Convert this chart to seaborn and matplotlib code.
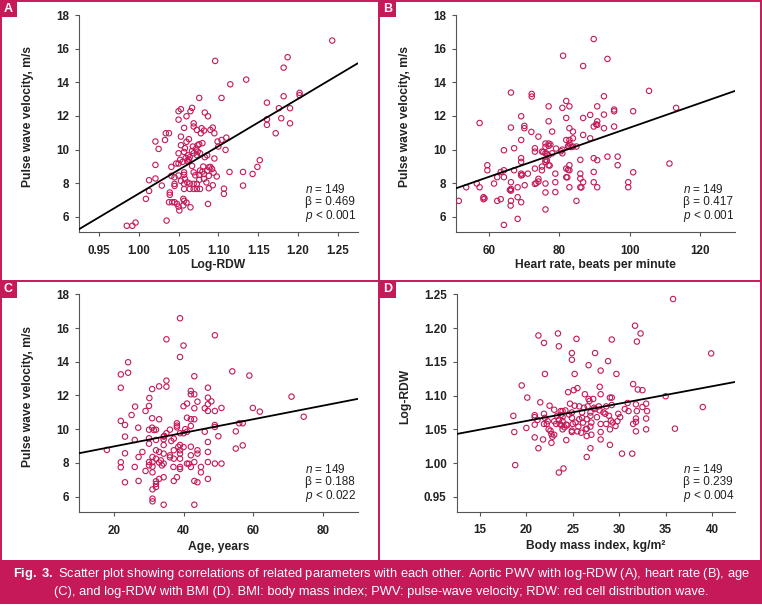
import numpy as np
import pandas as pd
import seaborn as sns
import matplotlib.pyplot as plt
from matplotlib.patches import Rectangle
from matplotlib.lines import Line2D

# ---- data ----
# (A) aortic PWV (m/s) vs log-RDW
pwv_vs_rdw = [
    (1.243, 16.48), (1.096, 15.27), (1.187, 15.49), (1.182, 14.87), (1.135, 14.16), (1.115, 13.88),
    (1.076, 13.07), (1.104, 13.07), (1.182, 13.17), (1.202, 13.37), (1.202, 13.23), (1.161, 12.79),
    (1.176, 12.46), (1.190, 12.46), (1.067, 12.48), (1.053, 12.40), (1.050, 12.28), (1.065, 12.28),
    (1.083, 12.20), (1.087, 11.98), (1.060, 11.98), (1.050, 11.78), (1.161, 11.80), (1.179, 11.86),
    (1.161, 11.47), (1.190, 11.56), (1.069, 11.56), (1.069, 11.37), (1.057, 11.29), (1.073, 11.17),
    (1.079, 11.27), (1.082, 11.13), (1.078, 10.97), (1.090, 11.17), (1.093, 11.31), (1.095, 10.97),
    (1.172, 10.97), (1.034, 10.97), (1.038, 10.97), (1.033, 10.57), (1.053, 10.77), (1.021, 10.48),
    (1.060, 10.46), (1.099, 10.48), (1.104, 10.57), (1.110, 10.71), (1.100, 10.18), (1.109, 9.98),
    (1.025, 10.04), (1.053, 10.26), (1.058, 10.08), (1.068, 10.18), (1.074, 10.26), (1.076, 10.32),
    (1.080, 10.38), (1.050, 9.78), (1.057, 9.86), (1.067, 9.92), (1.069, 9.78), (1.074, 9.88),
    (1.077, 9.78), (1.062, 9.66), (1.073, 9.68), (1.064, 9.54), (1.086, 9.66), (1.095, 9.47),
    (1.052, 9.39), (1.055, 9.27), (1.050, 9.17), (1.062, 9.27), (1.063, 9.41), (1.152, 9.37),
    (1.021, 9.09), (1.041, 8.97), (1.081, 8.99), (1.088, 8.95), (1.090, 8.97), (1.149, 8.97),
    (1.092, 8.85), (1.077, 8.75), (1.080, 8.69), (1.086, 8.75), (1.057, 8.65), (1.069, 8.65),
    (1.114, 8.67), (1.131, 8.67), (1.143, 8.55), (1.076, 8.50), (1.082, 8.55), (1.088, 8.44),
    (1.050, 8.46), (1.041, 8.44), (1.098, 8.40), (1.021, 8.28), (1.013, 8.18), (1.058, 8.26),
    (1.076, 8.20), (1.082, 8.26), (1.053, 8.14), (1.029, 7.86), (1.045, 7.96), (1.057, 7.96),
    (1.064, 7.98), (1.069, 7.96), (1.073, 7.96), (1.093, 7.88), (1.131, 7.86), (1.045, 7.84),
    (1.013, 7.54), (1.064, 7.66), (1.069, 7.66), (1.073, 7.66), (1.077, 7.66), (1.057, 7.66),
    (1.107, 7.68), (1.107, 7.37), (1.039, 7.45), (1.039, 7.31), (1.009, 7.07), (1.056, 7.07),
    (1.057, 6.95), (1.038, 6.87), (1.042, 6.87), (1.045, 6.87), (1.048, 6.77), (1.060, 6.85),
    (1.087, 6.77), (1.050, 6.61), (1.065, 6.57), (1.051, 6.38), (1.035, 5.78), (0.996, 5.66),
    (0.985, 5.47), (0.992, 5.47), (1.059, 9.50), (1.061, 9.35), (1.057, 8.50), (1.094, 8.63),
    (1.047, 9.17), (1.067, 9.03), (1.071, 8.47), (1.061, 8.05), (1.085, 8.05), (1.045, 8.35),
    (1.063, 10.62), (1.072, 10.05), (1.083, 9.55), (1.056, 6.68), (1.088, 7.70),
]

# (B) aortic PWV (m/s) vs heart rate (beats/min)
pwv_vs_hr = [
    (89.8, 16.57), (81.1, 15.58), (93.7, 15.39), (86.8, 14.97), (105.5, 13.49), (66.3, 13.39),
    (72.2, 13.31), (72.2, 13.15), (92.7, 13.17), (113.2, 12.48), (82.0, 12.89), (77.0, 12.57),
    (80.9, 12.48), (82.9, 12.57), (90.8, 12.57), (95.6, 12.38), (95.6, 12.28), (101.0, 12.28),
    (57.4, 11.58), (69.2, 11.98), (88.8, 12.06), (92.7, 12.08), (82.0, 11.88), (86.8, 11.88),
    (77.0, 11.68), (90.8, 11.68), (90.8, 11.47), (89.8, 11.37), (66.3, 11.31), (70.1, 11.41),
    (70.1, 11.27), (82.9, 11.27), (92.7, 11.27), (95.6, 11.37), (72.1, 11.05), (78.0, 11.07),
    (83.9, 11.07), (74.1, 10.77), (86.8, 10.87), (69.2, 10.57), (82.0, 10.57), (82.9, 10.57),
    (83.9, 10.67), (88.8, 10.67), (67.2, 10.08), (64.3, 9.96), (73.1, 10.08), (73.1, 9.88),
    (76.1, 10.36), (76.1, 10.16), (77.0, 10.36), (77.0, 10.22), (79.1, 10.06), (80.9, 10.00),
    (80.9, 9.78), (82.9, 10.36), (82.9, 10.18), (83.9, 10.18), (84.9, 10.18), (75.1, 9.88),
    (76.1, 9.78), (76.1, 9.39), (76.1, 9.27), (77.0, 9.66), (78.0, 9.78), (69.2, 9.49),
    (69.2, 9.27), (89.8, 9.49), (93.7, 9.58), (96.6, 9.58), (90.8, 9.37), (86.0, 9.39),
    (59.6, 9.07), (59.6, 8.77), (77.0, 9.07), (82.9, 9.07), (96.6, 9.07), (111.3, 9.17),
    (75.1, 8.99), (67.2, 8.77), (64.3, 8.77), (73.1, 8.87), (82.0, 8.87), (82.9, 8.77),
    (75.1, 8.77), (63.4, 8.67), (71.1, 8.57), (69.2, 8.57), (69.2, 8.46), (78.9, 8.57),
    (86.0, 8.57), (89.8, 8.67), (101.0, 8.65), (62.4, 8.36), (64.3, 8.36), (82.0, 8.36),
    (86.0, 8.28), (74.1, 8.26), (61.5, 7.98), (56.6, 7.98), (66.3, 8.06), (70.2, 7.88),
    (73.1, 7.96), (74.1, 8.10), (76.1, 7.98), (78.9, 8.06), (86.8, 8.06), (89.8, 8.06),
    (99.6, 8.06), (53.6, 7.76), (57.4, 7.76), (66.3, 7.66), (66.3, 7.56), (68.2, 7.76),
    (82.9, 7.76), (86.0, 7.76), (90.8, 7.76), (99.6, 7.76), (76.1, 7.45), (78.9, 7.47),
    (58.5, 7.17), (58.5, 7.05), (68.2, 7.17), (51.5, 6.95), (62.4, 6.95), (63.4, 7.05),
    (66.3, 6.95), (69.2, 6.87), (66.2, 6.67), (84.9, 6.95), (76.1, 6.44), (68.2, 5.88),
    (64.3, 5.52), (76.5, 9.35), (77.5, 10.30), (82.5, 10.20), (75.5, 9.85), (80.5, 9.90),
    (82.5, 8.80), (69.5, 8.50), (73.5, 8.00), (66.0, 7.60), (76.5, 9.75), (83.5, 10.15),
    (77.3, 9.05), (82.3, 8.35), (86.3, 7.75), (58.8, 7.10), (90.5, 11.50),
]

# (C) aortic PWV (m/s) vs age (years)
pwv_vs_age = [
    (39.0, 16.58), (49.0, 15.57), (35.1, 15.33), (40.0, 14.96), (39.0, 14.28), (24.1, 13.97),
    (24.1, 13.35), (22.0, 13.25), (54.0, 13.43), (58.9, 13.18), (43.1, 13.14), (35.1, 12.88),
    (33.0, 12.54), (35.1, 12.52), (22.0, 12.46), (31.0, 12.38), (47.0, 12.46), (42.1, 12.27),
    (43.1, 12.07), (42.1, 12.07), (30.2, 11.85), (47.0, 11.87), (44.0, 11.63), (48.0, 11.65),
    (71.0, 11.93), (26.1, 11.34), (30.1, 11.38), (47.0, 11.48), (46.1, 11.24), (43.1, 11.24),
    (50.9, 11.26), (59.9, 11.26), (61.9, 11.04), (40.0, 11.36), (29.1, 11.08), (41.0, 11.52),
    (47.0, 11.08), (49.0, 11.08), (74.5, 10.74), (25.1, 10.84), (31.0, 10.65), (33.0, 10.59),
    (41.0, 10.68), (42.1, 10.59), (43.1, 10.59), (22.0, 10.49), (23.2, 10.25), (38.1, 10.35),
    (38.1, 10.21), (38.1, 10.11), (27.0, 10.09), (31.0, 10.09), (32.1, 9.97), (30.1, 9.97),
    (42.1, 10.19), (49.0, 10.25), (49.0, 10.13), (56.0, 10.35), (57.0, 10.35), (36.1, 9.97),
    (39.0, 9.76), (40.0, 9.76), (41.0, 9.85), (46.1, 9.85), (55.0, 9.87), (35.1, 9.76),
    (34.5, 9.60), (23.2, 9.56), (30.1, 9.46), (34.3, 9.56), (34.3, 9.40), (37.2, 9.44),
    (50.0, 9.58), (26.0, 9.36), (32.1, 9.36), (47.0, 9.24), (34.3, 9.06), (39.0, 9.06),
    (40.0, 8.94), (42.1, 8.96), (57.0, 9.04), (30.1, 9.14), (55.0, 8.85), (18.0, 8.77),
    (28.2, 8.65), (32.1, 8.75), (33.0, 8.65), (34.3, 8.55), (37.2, 8.75), (39.0, 8.75),
    (39.0, 8.55), (44.0, 8.75), (47.0, 8.65), (23.2, 8.57), (36.1, 8.45), (36.1, 8.33),
    (31.1, 8.35), (27.1, 8.35), (42.1, 8.45), (44.0, 8.55), (37.2, 8.25), (39.0, 8.25),
    (32.1, 8.25), (31.1, 8.05), (30.1, 8.05), (22.0, 8.04), (34.3, 7.96), (33.0, 8.02),
    (43.1, 8.05), (41.0, 7.96), (47.0, 8.05), (49.0, 7.96), (50.9, 7.96), (30.1, 7.86),
    (31.1, 7.78), (22.0, 7.74), (26.0, 7.76), (37.1, 7.76), (39.0, 7.76), (39.0, 7.64),
    (42.1, 7.76), (45.0, 7.76), (45.0, 7.44), (31.1, 7.44), (29.1, 7.52), (34.3, 7.15),
    (37.2, 6.93), (38.1, 7.15), (47.0, 7.05), (33.0, 7.05), (32.1, 6.91), (32.1, 6.75),
    (27.1, 6.93), (23.2, 6.85), (43.1, 6.93), (44.0, 6.85), (31.1, 6.43), (32.1, 6.57),
    (31.1, 5.88), (31.1, 5.72), (34.3, 5.52), (43.1, 5.52), (33.5, 8.15), (40.5, 10.00),
    (36.5, 9.30), (31.5, 9.95), (38.5, 8.95), (33.8, 7.85), (41.5, 7.95),
]

# (D) log-RDW vs body mass index (kg/m2)
rdw_vs_bmi = [
    (35.8, 1.243), (31.7, 1.2035), (21.3, 1.189), (23.4, 1.192), (32.3, 1.192), (25.4, 1.184),
    (29.2, 1.183), (31.9, 1.180), (21.9, 1.178), (23.5, 1.173), (24.9, 1.163), (27.4, 1.163),
    (39.9, 1.1625), (24.9, 1.153), (28.8, 1.151), (26.7, 1.145), (28.0, 1.137), (22.0, 1.132),
    (25.2, 1.132), (29.7, 1.132), (19.5, 1.115), (31.5, 1.117), (27.9, 1.113), (25.5, 1.111),
    (25.1, 1.108), (24.5, 1.105), (32.0, 1.109), (32.5, 1.108), (20.1, 1.097), (21.5, 1.090),
    (26.3, 1.102), (28.0, 1.102), (26.7, 1.095), (27.2, 1.095), (29.0, 1.097), (29.2, 1.097),
    (35.0, 1.099), (22.5, 1.085), (23.0, 1.079), (25.2, 1.085), (25.7, 1.084), (29.2, 1.086),
    (26.8, 1.092), (26.6, 1.084), (27.3, 1.082), (27.4, 1.080), (27.8, 1.084), (28.6, 1.084),
    (30.9, 1.089), (31.8, 1.087), (32.5, 1.083), (32.9, 1.088), (39.0, 1.083), (18.6, 1.070),
    (20.9, 1.071), (20.9, 1.068), (21.9, 1.073), (23.7, 1.077), (23.9, 1.077), (24.2, 1.078),
    (24.9, 1.075), (26.0, 1.075), (26.9, 1.075), (28.3, 1.075), (29.9, 1.073), (31.0, 1.077),
    (31.9, 1.077), (33.0, 1.077), (26.9, 1.070), (28.5, 1.073), (30.1, 1.068), (23.9, 1.068),
    (23.7, 1.071), (24.9, 1.067), (23.5, 1.064), (25.7, 1.065), (26.0, 1.067), (26.5, 1.065),
    (22.0, 1.067), (31.8, 1.066), (32.9, 1.066), (23.0, 1.062), (23.2, 1.058), (23.9, 1.062),
    (26.1, 1.060), (29.1, 1.063), (29.3, 1.060), (29.8, 1.062), (31.5, 1.058), (31.8, 1.061),
    (20.9, 1.057), (21.9, 1.058), (22.2, 1.058), (23.6, 1.058), (23.8, 1.056), (24.3, 1.057),
    (25.0, 1.058), (28.0, 1.058), (28.6, 1.058), (24.1, 1.053), (24.4, 1.056), (25.6, 1.054),
    (26.5, 1.051), (26.9, 1.054), (28.0, 1.046), (29.0, 1.050), (22.4, 1.050), (22.6, 1.048),
    (20.0, 1.052), (18.7, 1.046), (24.9, 1.048), (24.9, 1.046), (25.5, 1.047), (26.4, 1.050),
    (31.8, 1.047), (32.9, 1.050), (36.0, 1.051), (22.7, 1.043), (23.0, 1.042), (22.8, 1.039),
    (20.9, 1.038), (26.5, 1.040), (27.0, 1.042), (21.8, 1.035), (24.3, 1.034), (28.0, 1.035),
    (22.7, 1.030), (29.0, 1.027), (21.3, 1.022), (26.9, 1.022), (30.3, 1.014), (31.4, 1.014),
    (26.5, 1.009), (18.8, 0.997), (24.0, 0.992), (23.5, 0.986), (24.6, 1.072), (25.3, 1.060),
    (27.6, 1.068), (23.3, 1.070), (26.2, 1.082), (28.9, 1.070), (22.3, 1.062), (25.9, 1.045),
    (27.9, 1.078), (30.6, 1.080), (24.7, 1.088), (29.6, 1.055), (21.2, 1.064), (27.0, 1.060),
    (23.9, 1.050),
]

# regression lines (intercept, slope) as drawn in the figure
fit_lines = [(-20.79, 28.17), (3.99, 0.0731), (8.17, 0.0403), (1.011, 0.00257)]

panel_letters = ["A", "B", "C", "D"]
x_labels = ["Log-RDW", "Heart rate, beats per minute", "Age, years", "Body mass index, kg/m\u00b2"]
y_labels = ["Pulse wave velocity, m/s", "Pulse wave velocity, m/s",
            "Pulse wave velocity, m/s", "Log-RDW"]
n_values = [149, 149, 149, 149]
beta_values = ["0.469", "0.417", "0.188", "0.239"]
p_values = ["0.001", "0.001", "0.022", "0.004"]

pwv_ticks = [6, 8, 10, 12, 14, 16, 18]
rdw_ticks = [0.95, 1.00, 1.05, 1.10, 1.15, 1.20, 1.25]
hr_ticks = [60, 80, 100, 120]
age_ticks = [20, 40, 60, 80]
bmi_ticks = [15, 20, 25, 30, 35, 40]

caption_1 = (r"$\bf{Fig.\ 3.}$ Scatter plot showing correlations of related parameters with each other. "
             "Aortic PWV with log-RDW (A), heart rate (B), age")
caption_2 = ("(C), and log-RDW with BMI (D). BMI: body mass index; PWV: pulse-wave velocity; "
             "RDW: red cell distribution wave.")

RED = "#c5195a"

sns.set_theme(style="ticks")
plt.rcParams["font.family"] = ["Liberation Sans", "DejaVu Sans"]
plt.rcParams["mathtext.fontset"] = "custom"
plt.rcParams["mathtext.rm"] = "Liberation Sans"
plt.rcParams["mathtext.it"] = "Liberation Sans:italic"
plt.rcParams["mathtext.bf"] = "Liberation Sans:bold"

W, H = 762, 606
fig = plt.figure(figsize=(W / 100, H / 100), dpi=100)


def px_rect(left, top, right, bottom):
    return [left / W, 1 - bottom / H, (right - left) / W, (bottom - top) / H]


# axes placement (pixel boxes) and limits
axes_boxes = [(79, 15, 357.7, 232), (456, 15, 735.3, 232),
              (79, 294.3, 357.7, 512.3), (456.7, 294.3, 735.3, 511.7)]
x_limits = [(0.925, 1.275), (50.7, 130), (10, 90), (12.5, 42.5)]
y_limits = [(5.1, 18), (5.1, 18), (5.07, 18), (0.928, 1.25)]
x_ticks = [rdw_ticks, hr_ticks, age_ticks, bmi_ticks]
y_ticks = [pwv_ticks, pwv_ticks, pwv_ticks, rdw_ticks]
datasets = [pwv_vs_rdw, pwv_vs_hr, pwv_vs_age, rdw_vs_bmi]
xlabel_y = [-0.150, -0.150, -0.16, -0.16]
frame_corners = [(0, 0), (379, 0), (0, 281), (379, 281)]

for i in range(4):
    ax = fig.add_axes(px_rect(*axes_boxes[i]))
    df = pd.DataFrame(datasets[i], columns=["x", "y"])
    sns.scatterplot(data=df, x="x", y="y", ax=ax, marker="o", s=15,
                    color=RED, facecolors="none", edgecolors=RED, linewidths=0.8,
                    zorder=3)
    b0, b1 = fit_lines[i]
    ax.axline((0, b0), slope=b1, color="black", lw=1.3, zorder=4)

    ax.set_xlim(*x_limits[i])
    ax.set_ylim(*y_limits[i])
    ax.set_xticks(x_ticks[i])
    ax.set_yticks(y_ticks[i])
    if i == 0:
        ax.set_xticklabels([f"{t:.2f}" for t in x_ticks[i]])
    if i == 3:
        ax.set_yticklabels([f"{t:.2f}" for t in y_ticks[i]])
    sns.despine(ax=ax)
    for sp in ["left", "bottom"]:
        ax.spines[sp].set_color("#555555")
        ax.spines[sp].set_linewidth(0.8)
    ax.tick_params(axis="both", length=3, width=0.8, color="#555555",
                   labelsize=8.4, labelcolor="#222222")
    ax.tick_params(axis="x", pad=6)
    ax.tick_params(axis="y", pad=4.3)
    for lab in ax.get_xticklabels() + ax.get_yticklabels():
        lab.set_fontweight("bold")

    ax.set_xlabel(x_labels[i], fontsize=8.7, fontweight="bold", color="#222222")
    ax.set_ylabel(y_labels[i], fontsize=8.7, fontweight="bold", color="#222222")
    ax.xaxis.set_label_coords(0.5, xlabel_y[i])
    ax.xaxis.label.set_va("center")
    ax.yaxis.set_label_coords(-0.183, 0.53)
    ax.yaxis.label.set_va("center")

    stats = [rf"$\it{{n}}$ = {n_values[i]}", f"\u03b2 = {beta_values[i]}",
             rf"$\it{{p}}$ < {p_values[i]}"]
    for txt, yy in zip(stats, [0.195, 0.137, 0.074]):
        ax.text(0.812, yy, txt, transform=ax.transAxes, ha="left", va="center",
                fontsize=8.5, color="#222222")

    # panel letter box
    fx, fy = frame_corners[i]
    fig.add_artist(Rectangle((fx / W, 1 - (fy + 17) / H), 17 / W, 17 / H,
                             transform=fig.transFigure, facecolor=RED, edgecolor="none"))
    fig.text((fx + 8.5) / W, 1 - (fy + 8.5) / H, panel_letters[i], color="white",
             fontsize=9, fontweight="bold", ha="center", va="center")

# panel frame lines
frame_kw = dict(color=RED, lw=1.4, transform=fig.transFigure)
bottom_y = 1 - 560 / H
fig.add_artist(Line2D([0.7 / W, 0.7 / W], [1, bottom_y], **frame_kw))
fig.add_artist(Line2D([1 - 0.7 / W, 1 - 0.7 / W], [1, bottom_y], **frame_kw))
fig.add_artist(Line2D([379 / W, 379 / W], [1, bottom_y], **frame_kw))
fig.add_artist(Line2D([0, 1], [1 - 0.7 / H, 1 - 0.7 / H], **frame_kw))
fig.add_artist(Line2D([0, 1], [1 - 281 / H, 1 - 281 / H], **frame_kw))

# caption band
fig.add_artist(Rectangle((0, 1 - 604 / H), 1, 44 / H, transform=fig.transFigure,
                         facecolor=RED, edgecolor="none"))
fig.text(0.5, 1 - 574 / H, caption_1, color="white", fontsize=9.3, ha="center", va="center")
fig.text(0.5, 1 - 592 / H, caption_2, color="white", fontsize=9.3, ha="center", va="center")

fig.savefig("out.png", dpi=100, facecolor="white")
